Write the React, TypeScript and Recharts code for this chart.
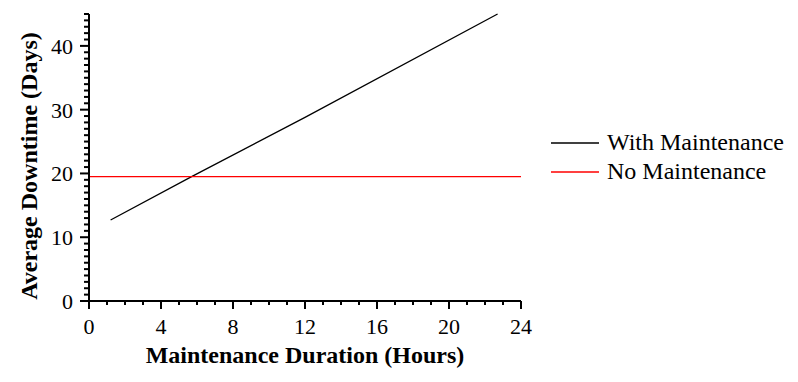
import { LineChart, Line, XAxis, YAxis, Legend } from 'recharts';

const withMaintenance = [
  { x: 1.2, y: 12.7 },
  { x: 5.7, y: 19.5 },
  { x: 12, y: 28.8 },
  { x: 22.7, y: 45 },
];
const noMaintenance = [
  { x: 0, y: 19.5 },
  { x: 24, y: 19.5 },
];
const xTicks = Array.from({ length: 25 }, (_, i) => i);
const yTicks = Array.from({ length: 46 }, (_, i) => i);
const xLabelEvery = 4;
const yLabelEvery = 10;

const FONT = '"Liberation Serif", "Times New Roman", serif';

const legendItems = [
  { name: 'With Maintenance', color: '#000000' },
  { name: 'No Maintenance', color: '#ff0000' },
];

function XTick(props: any) {
  const { x, y, payload } = props;
  const major = payload.value % xLabelEvery === 0;
  return (
    <g>
      <line x1={x} x2={x} y1={y} y2={y + (major ? 8 : 4)} stroke="#000" strokeWidth={2} />
      {major && (
        <text x={x} y={y + 33} textAnchor="middle" fontSize={22} fontFamily={FONT} fill="#000">
          {payload.value}
        </text>
      )}
    </g>
  );
}

function YTick(props: any) {
  const { x, y, payload } = props;
  const major = payload.value % yLabelEvery === 0;
  return (
    <g>
      <line x1={x} x2={x - (major ? 9 : 5)} y1={y} y2={y} stroke="#000" strokeWidth={2} />
      {major && (
        <text x={x - 16} y={y + 8} textAnchor="end" fontSize={22} fontFamily={FONT} fill="#000">
          {payload.value}
        </text>
      )}
    </g>
  );
}

function LegendBox() {
  return (
    <div style={{ fontFamily: FONT, fontSize: 24, color: '#000', lineHeight: '29px' }}>
      {legendItems.map((it) => (
        <div key={it.name} style={{ display: 'flex', alignItems: 'center', height: 29 }}>
          <svg width={56} height={4} style={{ flex: 'none' }}>
            <line x1={0} x2={48} y1={2} y2={2} stroke={it.color} strokeWidth={1.3} />
          </svg>
          <span style={{ whiteSpace: 'nowrap' }}>{it.name}</span>
        </div>
      ))}
    </div>
  );
}

export default function App() {
  return (
    <LineChart
      width={798}
      height={382}
      margin={{ top: 14, right: 30, bottom: 0, left: 0 }}
      style={{ position: 'absolute', left: 0, top: 0 }}
    >
      <XAxis
        type="number"
        dataKey="x"
        domain={[0, 24]}
        ticks={xTicks}
        interval={0}
        tickSize={0}
        tickMargin={0}
        tickLine={false}
        tick={<XTick />}
        axisLine={{ stroke: '#000', strokeWidth: 2 }}
        height={81}
        label={{
          content: () => (
            <text x={305} y={363} textAnchor="middle" fontSize={24} fontWeight="bold" fontFamily={FONT} fill="#000">
              Maintenance Duration (Hours)
            </text>
          ),
        }}
      />
      <YAxis
        type="number"
        domain={[0, 45]}
        ticks={yTicks}
        interval={0}
        width={89}
        tickSize={0}
        tickMargin={0}
        tickLine={false}
        tick={<YTick />}
        axisLine={{ stroke: '#000', strokeWidth: 2 }}
        label={{
          content: () => (
            <text
              x={0}
              y={0}
              transform="translate(37, 166) rotate(-90)"
              textAnchor="middle"
              fontSize={24}
              fontWeight="bold"
              fontFamily={FONT}
              fill="#000"
            >
              Average Downtime (Days)
            </text>
          ),
        }}
      />
      <Legend
        layout="vertical"
        align="right"
        verticalAlign="middle"
        content={<LegendBox />}
        wrapperStyle={{ position: 'absolute', left: 551, top: 128, width: 247 }}
      />
      <Line
        data={withMaintenance}
        dataKey="y"
        name="With Maintenance"
        stroke="#000000"
        strokeWidth={1.3}
        dot={false}
        isAnimationActive={false}
      />
      <Line
        data={noMaintenance}
        dataKey="y"
        name="No Maintenance"
        stroke="#ff0000"
        strokeWidth={1.3}
        dot={false}
        isAnimationActive={false}
      />
    </LineChart>
  );
}
